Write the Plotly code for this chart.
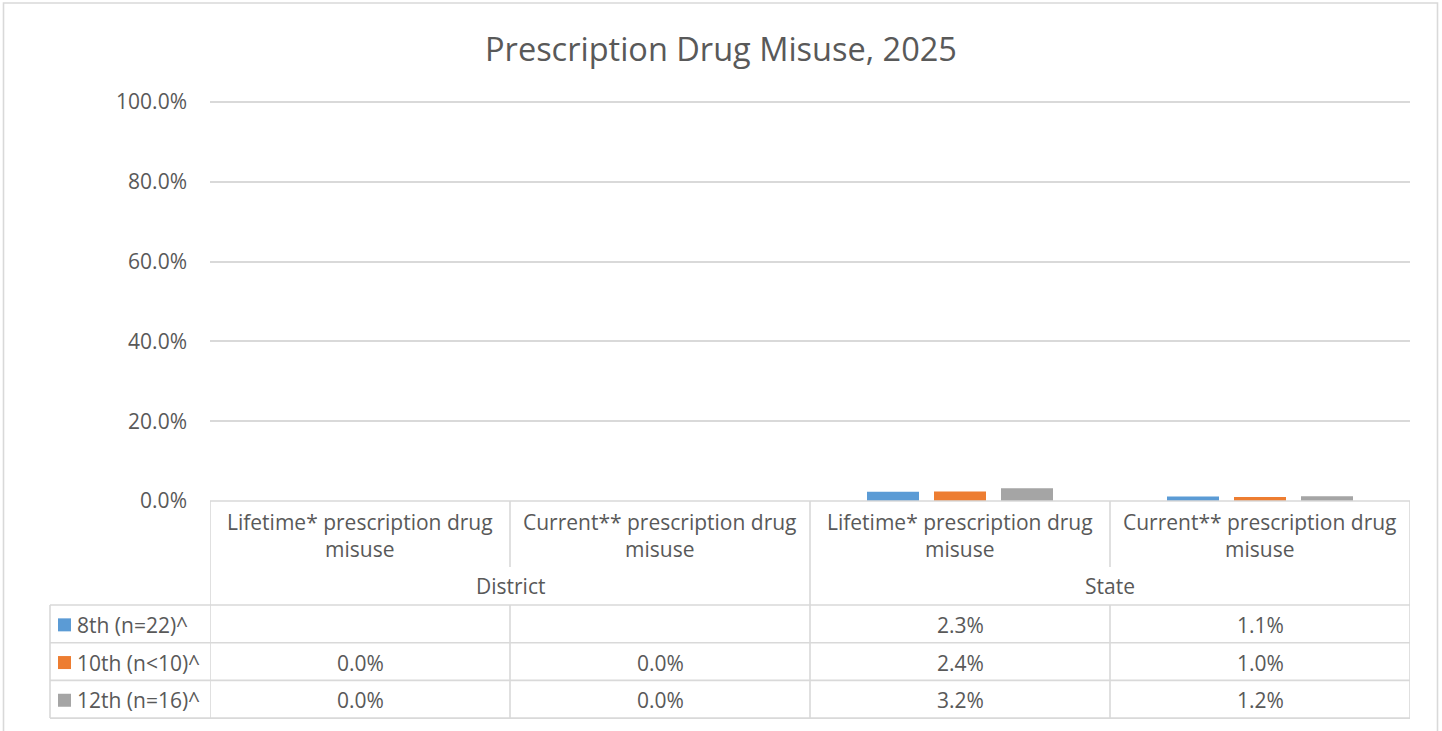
import plotly.graph_objects as go

# ---------------- data ----------------
categories = [
    "Lifetime* prescription drug<br>misuse",
    "Current** prescription drug<br>misuse",
    "Lifetime* prescription drug<br>misuse",
    "Current** prescription drug<br>misuse",
]
groups = ["District", "State"]
series_names = ["8th (n=22)^", "10th (n<10)^", "12th (n=16)^"]
grade8 = [None, None, 2.3, 1.1]
grade10 = [0.0, 0.0, 2.4, 1.0]
grade12 = [0.0, 0.0, 3.2, 1.2]
y_ticks = [0, 20, 40, 60, 80, 100]
y_tick_labels = ["0.0%", "20.0%", "40.0%", "60.0%", "80.0%", "100.0%"]
title_text = "Prescription Drug Misuse, 2025"

series_values = [grade8, grade10, grade12]
colors = ["#5B9BD5", "#ED7D31", "#A5A5A5"]

# ---------------- layout geometry (pixels) ----------------
W, H = 1442, 731
PL, PR, PT, PB = 210, 1410, 98, 501
Y_TOP = 101
FONT = "Open Sans"
TXT = "#595959"
LINE = "#D9D9D9"
FS = 21


def px(X):
    return (X - PL) / (PR - PL)


def py(Y):
    return (PB - Y) / (PB - PT)


HEAD_SUB = 567      # bottom of category label row
DATA_TOP = 605      # top of first data row
ROW_H = 37.7
row_edges = [DATA_TOP + i * ROW_H for i in range(len(series_names) + 1)]
TABLE_BOTTOM = row_edges[-1]
LEG_LEFT = 50

xs = list(range(len(categories)))

fig = go.Figure()
for name, vals, col in zip(series_names, series_values, colors):
    fig.add_trace(go.Bar(x=xs, y=vals, name=name, marker=dict(color=col, line=dict(width=0)),
                         showlegend=False, hoverinfo="skip"))

shapes = []
ann = []

def vline(xv, y0, y1, xref="x"):
    shapes.append(dict(type="line", xref=xref, yref="paper", x0=xv, x1=xv, y0=py(y0), y1=py(y1),
                       line=dict(color=LINE, width=1.6)))

def hline(yv, x0p, x1p):
    shapes.append(dict(type="line", xref="paper", yref="paper", x0=x0p, x1=x1p, y0=py(yv), y1=py(yv),
                       line=dict(color=LINE, width=1.6)))

n = len(categories)
per_group = n // len(groups)
for b in range(n + 1):
    xb = b - 0.5
    if b % per_group == 0:
        vline(xb, PB, TABLE_BOTTOM)
    else:
        vline(xb, PB, HEAD_SUB)
        vline(xb, DATA_TOP, TABLE_BOTTOM)
hline(PB, 0, 1)
for ye in row_edges:
    hline(ye, px(LEG_LEFT), 1)
vline(px(LEG_LEFT), DATA_TOP, TABLE_BOTTOM, xref="paper")

# outer chart frame
shapes.append(dict(type="rect", xref="paper", yref="paper", x0=px(3.5), x1=px(1437.5),
                   y0=py(750), y1=py(3), line=dict(color=LINE, width=1.6), layer="below"))

# category labels
for i, c in enumerate(categories):
    ann.append(dict(x=i, y=py(535), xref="x", yref="paper", text=c, showarrow=False,
                    font=dict(family=FONT, size=FS, color=TXT), xanchor="center", yanchor="middle"))
# group labels
for g, gname in enumerate(groups):
    ann.append(dict(x=g * per_group + (per_group - 1) / 2, y=py(586), xref="x", yref="paper",
                    text=gname, showarrow=False, font=dict(family=FONT, size=FS, color=TXT),
                    xanchor="center", yanchor="middle"))
# data rows
for r, (name, vals, col) in enumerate(zip(series_names, series_values, colors)):
    yc = (row_edges[r] + row_edges[r + 1]) / 2 + 1
    shapes.append(dict(type="rect", xref="paper", yref="paper", x0=px(58), x1=px(71),
                       y0=py(yc - 6.5), y1=py(yc + 6.5), fillcolor=col, line=dict(width=0)))
    ann.append(dict(x=px(75), y=py(yc), xref="paper", yref="paper", text=name, showarrow=False,
                    font=dict(family=FONT, size=FS, color=TXT), xanchor="left", yanchor="middle"))
    for i, v in enumerate(vals):
        if v is None:
            continue
        ann.append(dict(x=i, y=py(yc), xref="x", yref="paper", text=f"{v:.1f}%", showarrow=False,
                        font=dict(family=FONT, size=FS, color=TXT), xanchor="center", yanchor="middle"))

fig.update_layout(
    width=W, height=H,
    margin=dict(l=PL, r=W - PR, t=PT, b=H - PB, pad=0),
    paper_bgcolor="white", plot_bgcolor="white",
    title=dict(text=title_text, x=0.5, xref="container", xanchor="center",
               y=1 - 50 / H, yref="container", yanchor="middle",
               font=dict(family=FONT, size=32.5, color=TXT)),
    bargap=0.33, bargroupgap=0.224, barmode="group",
    xaxis=dict(range=[-0.5, n - 0.5], showticklabels=False, showgrid=False, zeroline=False,
               showline=False, ticks="", fixedrange=True),
    yaxis=dict(range=[0, Y_TOP], tickmode="array", tickvals=y_ticks, ticktext=y_tick_labels,
               showgrid=True, gridcolor=LINE, gridwidth=1.6, zeroline=False, showline=False,
               ticks="", ticklabelstandoff=22, tickfont=dict(family=FONT, size=FS, color=TXT),
               fixedrange=True),
    shapes=shapes, annotations=ann,
    font=dict(family=FONT, color=TXT),
)

fig.write_html("out.html", config={"displayModeBar": False},
               post_script="document.body.style.margin='0';document.body.style.overflow='hidden';")
